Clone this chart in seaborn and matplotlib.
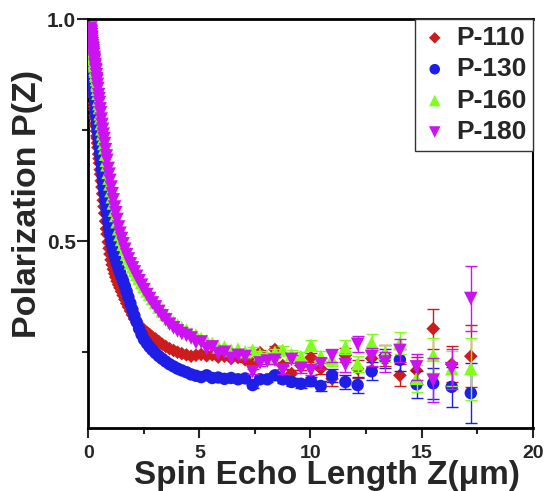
import numpy as np
import pandas as pd
import matplotlib
matplotlib.use("Agg")
import matplotlib.pyplot as plt
import seaborn as sns
from matplotlib.ticker import MultipleLocator

# ---------------- data ----------------
z = [0.12, 0.13, 0.135, 0.14, 0.15, 0.16, 0.165, 0.17, 0.18, 0.19,
     0.20, 0.21, 0.22, 0.23, 0.24, 0.25, 0.27, 0.28, 0.29, 0.31,
     0.32, 0.34, 0.35, 0.37, 0.39, 0.40, 0.42, 0.44, 0.47, 0.49,
     0.51, 0.54, 0.56, 0.59, 0.62, 0.65, 0.68, 0.71, 0.74, 0.78,
     0.82, 0.85, 0.90, 0.94, 0.98, 1.03, 1.08, 1.13, 1.19, 1.24,
     1.30, 1.37, 1.43, 1.50, 1.57, 1.65, 1.73, 1.81, 1.90, 1.99,
     2.08, 2.18, 2.29, 2.40, 2.51, 2.64, 2.76, 2.89, 3.03, 3.18,
     3.33, 3.49, 3.66, 3.84, 4.02, 4.21, 4.42, 4.63, 4.85, 5.08,
     5.33, 5.58, 5.85, 6.13, 6.43, 6.74, 7.06, 7.40, 7.73, 8.06,
     8.40, 8.75, 9.15, 9.57, 10.02, 10.46, 10.97, 11.57, 12.12, 12.75,
     13.35, 14.02, 14.77, 15.52, 16.35, 17.21]

p110 = [0.945, 0.935, 0.930, 0.925, 0.915, 0.905, 0.900, 0.895, 0.885, 0.876,
        0.867, 0.858, 0.850, 0.842, 0.834, 0.826, 0.810, 0.803, 0.796, 0.783,
        0.777, 0.765, 0.759, 0.748, 0.737, 0.732, 0.721, 0.711, 0.696, 0.686,
        0.676, 0.661, 0.651, 0.636, 0.622, 0.607, 0.592, 0.578, 0.563, 0.545,
        0.528, 0.516, 0.498, 0.484, 0.471, 0.458, 0.447, 0.437, 0.427, 0.419,
        0.410, 0.402, 0.395, 0.387, 0.378, 0.369, 0.360, 0.352, 0.343, 0.334,
        0.325, 0.318, 0.311, 0.305, 0.300, 0.295, 0.290, 0.284, 0.280, 0.274,
        0.268, 0.263, 0.258, 0.254, 0.250, 0.247, 0.244, 0.241, 0.243, 0.245,
        0.242, 0.244, 0.239, 0.241, 0.236, 0.238, 0.233, 0.224, 0.249, 0.235,
        0.256, 0.220, 0.202, 0.220, 0.238, 0.213, 0.190, 0.243, 0.213, 0.236,
        0.243, 0.198, 0.209, 0.303, 0.223, 0.241]

p130 = [0.950, 0.944, 0.940, 0.936, 0.928, 0.920, 0.916, 0.912, 0.904, 0.896,
        0.888, 0.880, 0.873, 0.866, 0.859, 0.852, 0.839, 0.833, 0.827, 0.815,
        0.809, 0.798, 0.793, 0.782, 0.772, 0.767, 0.757, 0.747, 0.733, 0.724,
        0.714, 0.700, 0.690, 0.676, 0.662, 0.647, 0.633, 0.620, 0.607, 0.590,
        0.574, 0.562, 0.544, 0.530, 0.517, 0.503, 0.491, 0.479, 0.468, 0.459,
        0.449, 0.439, 0.430, 0.420, 0.411, 0.399, 0.387, 0.374, 0.360, 0.346,
        0.332, 0.318, 0.303, 0.290, 0.279, 0.270, 0.262, 0.255, 0.248, 0.241,
        0.235, 0.229, 0.223, 0.218, 0.213, 0.209, 0.205, 0.200, 0.197, 0.194,
        0.198, 0.192, 0.193, 0.190, 0.192, 0.189, 0.191, 0.176, 0.189, 0.189,
        0.198, 0.189, 0.183, 0.179, 0.185, 0.174, 0.198, 0.183, 0.176, 0.207,
        0.236, 0.233, 0.178, 0.180, 0.172, 0.158]

p160 = [0.975, 0.968, 0.965, 0.962, 0.956, 0.951, 0.948, 0.945, 0.940, 0.935,
        0.930, 0.926, 0.922, 0.918, 0.914, 0.910, 0.903, 0.899, 0.895, 0.887,
        0.883, 0.876, 0.872, 0.864, 0.855, 0.851, 0.842, 0.833, 0.819, 0.810,
        0.801, 0.787, 0.778, 0.765, 0.753, 0.742, 0.731, 0.720, 0.710, 0.696,
        0.682, 0.672, 0.655, 0.642, 0.629, 0.614, 0.600, 0.586, 0.570, 0.558,
        0.544, 0.528, 0.515, 0.504, 0.493, 0.482, 0.471, 0.461, 0.451, 0.442,
        0.434, 0.425, 0.416, 0.407, 0.398, 0.388, 0.380, 0.371, 0.362, 0.352,
        0.343, 0.335, 0.326, 0.318, 0.311, 0.305, 0.300, 0.292, 0.289, 0.281,
        0.276, 0.270, 0.262, 0.262, 0.255, 0.257, 0.251, 0.255, 0.245, 0.241,
        0.250, 0.255, 0.245, 0.240, 0.266, 0.240, 0.235, 0.262, 0.224, 0.271,
        0.247, 0.270, 0.191, 0.243, 0.213, 0.213]

p180 = [0.980, 0.975, 0.972, 0.970, 0.965, 0.960, 0.958, 0.955, 0.950, 0.945,
        0.940, 0.936, 0.933, 0.929, 0.925, 0.921, 0.914, 0.910, 0.906, 0.898,
        0.894, 0.887, 0.884, 0.875, 0.866, 0.862, 0.853, 0.844, 0.830, 0.821,
        0.812, 0.798, 0.789, 0.775, 0.763, 0.752, 0.741, 0.731, 0.720, 0.706,
        0.692, 0.682, 0.664, 0.651, 0.637, 0.622, 0.607, 0.593, 0.577, 0.564,
        0.549, 0.532, 0.518, 0.506, 0.494, 0.482, 0.470, 0.460, 0.449, 0.440,
        0.431, 0.421, 0.411, 0.401, 0.391, 0.380, 0.371, 0.361, 0.352, 0.342,
        0.332, 0.323, 0.313, 0.305, 0.298, 0.292, 0.288, 0.282, 0.272, 0.273,
        0.258, 0.262, 0.247, 0.250, 0.236, 0.243, 0.240, 0.206, 0.226, 0.230,
        0.232, 0.210, 0.234, 0.214, 0.209, 0.224, 0.242, 0.222, 0.268, 0.240,
        0.228, 0.254, 0.217, 0.187, 0.213, 0.371]

# error bars (visible only on the last 20 points, Z >= 7)
n_err = 20
err110 = [0.006, 0.006, 0.007, 0.007, 0.008, 0.008, 0.009, 0.010, 0.011, 0.012,
          0.015, 0.016, 0.020, 0.020, 0.023, 0.025, 0.030, 0.045, 0.040, 0.070]
err130 = [0.006, 0.006, 0.007, 0.007, 0.008, 0.008, 0.009, 0.009, 0.010, 0.011,
          0.014, 0.015, 0.018, 0.020, 0.022, 0.025, 0.030, 0.035, 0.045, 0.067]
err160 = [0.006, 0.006, 0.007, 0.007, 0.008, 0.009, 0.009, 0.010, 0.012, 0.013,
          0.015, 0.016, 0.018, 0.020, 0.020, 0.025, 0.030, 0.040, 0.040, 0.070]
err180 = [0.006, 0.006, 0.007, 0.007, 0.008, 0.008, 0.009, 0.010, 0.011, 0.012,
          0.015, 0.016, 0.018, 0.020, 0.022, 0.025, 0.030, 0.050, 0.045, 0.073]

series = ["P-110", "P-130", "P-160", "P-180"]
values = [p110, p130, p160, p180]
errors = [err110, err130, err160, err180]
colors = {"P-110": "#CC1C1C", "P-130": "#1E1EE6", "P-160": "#80FF1A", "P-180": "#CC11F2"}
markers = {"P-110": "D", "P-130": "o", "P-160": "^", "P-180": "v"}
sizes = {"P-110": 48, "P-130": 80, "P-160": 95, "P-180": 95}

# ---------------- figure ----------------
sns.set_theme(style="ticks")
plt.rcParams["font.family"] = ["Liberation Sans", "DejaVu Sans"]
plt.rcParams["font.weight"] = "bold"

fig = plt.figure(figsize=(5.51, 4.91), dpi=100)
ax = fig.add_axes([0.16, 0.128, 0.807, 0.833])

df = pd.concat([pd.DataFrame({"Z": z, "P": v, "sample": s}) for s, v in zip(series, values)],
               ignore_index=True)

for i, s in enumerate(series):
    xs = z[-n_err:]
    ys = values[i][-n_err:]
    ax.errorbar(xs, ys, yerr=errors[i], fmt="none", ecolor=colors[s],
                elinewidth=1.0, capsize=4, capthick=1.0, zorder=2 + i)
    sub = df[df["sample"] == s]
    sns.scatterplot(data=sub, x="Z", y="P", ax=ax, color=colors[s], marker=markers[s],
                    s=sizes[s], linewidth=0, edgecolor="none", label=s, zorder=3 + i)

ax.set_xlim(0, 20)
ax.set_ylim(0.079, 1.0)
ax.set_xticks([0, 5, 10, 15, 20])
ax.set_xticklabels(["0", "5", "10", "15", "20"])
ax.set_yticks([0.5, 1.0])
ax.set_yticklabels(["0.5", "1.0"])
ax.xaxis.set_minor_locator(MultipleLocator(2.5))
ax.yaxis.set_minor_locator(MultipleLocator(0.25))

ax.tick_params(axis="x", which="major", direction="out", length=7, width=1.5,
               labelsize=14, pad=5)
ax.tick_params(axis="x", which="minor", direction="out", length=4, width=1.5)
ax.tick_params(axis="y", which="major", direction="out", length=8, width=1.5,
               labelsize=15, pad=1)
ax.tick_params(axis="y", which="minor", direction="out", length=4, width=1.5)
for lab in ax.get_xticklabels() + ax.get_yticklabels():
    lab.set_fontweight("bold")

for side in ["left", "bottom", "top"]:
    ax.spines[side].set_linewidth(2.0)
ax.spines["right"].set_linewidth(1.5)
for sp in ax.spines.values():
    sp.set_color("black")

ax.set_xlabel("Spin Echo Length Z(\u03bcm)", fontsize=24, fontweight="bold")
ax.xaxis.set_label_coords(0.536, -0.079)
ax.set_ylabel("Polarization P(Z)", fontsize=24.5, fontweight="bold")
ax.yaxis.set_label_coords(-0.101, 0.549)

handles, labels = ax.get_legend_handles_labels()
leg = ax.legend(handles, labels, loc="upper right", borderaxespad=0, frameon=True,
                fancybox=False, framealpha=1, edgecolor="#333333",
                prop={"weight": "bold", "size": 19}, labelspacing=0.28,
                handletextpad=0.3, handlelength=1.0, markerscale=0.85,
                borderpad=0.25)
leg.get_frame().set_linewidth(1.0)

fig.savefig("out.png", dpi=100)
